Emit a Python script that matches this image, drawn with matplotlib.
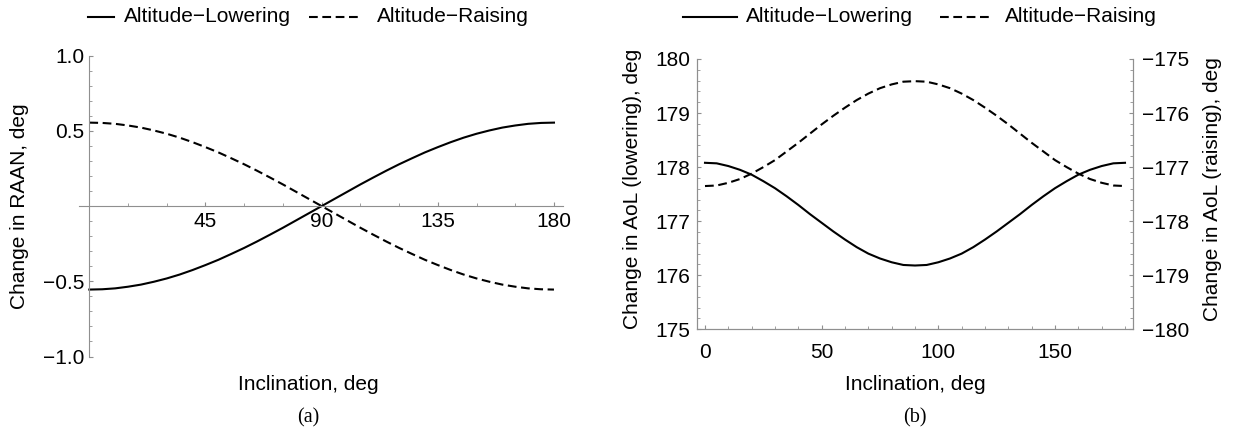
import matplotlib
matplotlib.use('Agg')
import matplotlib.pyplot as plt
from matplotlib.lines import Line2D
from matplotlib.ticker import MultipleLocator

plt.rcParams['font.family'] = ['Liberation Sans', 'DejaVu Sans']
plt.rcParams['font.size'] = 15

# Inclination grid, deg
incl = list(range(0, 181, 5))

# (a) change in RAAN, deg
raan_lowering = [-0.555, -0.553, -0.547, -0.536, -0.522, -0.503, -0.481, -0.455, -0.425, -0.392,
                 -0.357, -0.318, -0.278, -0.235, -0.190, -0.144, -0.096, -0.048, 0.0,
                 0.048, 0.096, 0.144, 0.190, 0.235, 0.278, 0.318, 0.357, 0.392,
                 0.425, 0.455, 0.481, 0.503, 0.522, 0.536, 0.547, 0.553, 0.555]
raan_raising = [0.555, 0.553, 0.547, 0.536, 0.522, 0.503, 0.481, 0.455, 0.425, 0.392,
                0.357, 0.318, 0.278, 0.235, 0.190, 0.144, 0.096, 0.048, 0.0,
                -0.048, -0.096, -0.144, -0.190, -0.235, -0.278, -0.318, -0.357, -0.392,
                -0.425, -0.455, -0.481, -0.503, -0.522, -0.536, -0.547, -0.553, -0.555]

# (b) change in AoL, deg (lowering on left axis, raising on right axis)
aol_lowering = [178.08, 178.07, 178.02, 177.95, 177.86, 177.74, 177.61, 177.46, 177.30, 177.13,
                176.97, 176.81, 176.66, 176.52, 176.40, 176.31, 176.24, 176.19, 176.18,
                176.19, 176.24, 176.31, 176.40, 176.52, 176.66, 176.81, 176.97, 177.13,
                177.30, 177.46, 177.61, 177.74, 177.86, 177.95, 178.02, 178.07, 178.08]
aol_raising = [-177.35, -177.34, -177.29, -177.22, -177.12, -177.00, -176.87, -176.71, -176.55, -176.38,
               -176.21, -176.05, -175.90, -175.76, -175.64, -175.54, -175.47, -175.42, -175.41,
               -175.42, -175.47, -175.54, -175.64, -175.76, -175.90, -176.05, -176.21, -176.38,
               -176.55, -176.71, -176.87, -177.00, -177.12, -177.22, -177.29, -177.34, -177.35]

axis_gray = '#8f8f8f'
lw = 1.5
dash = (0, (4.2, 2.2))

W, H = 1239, 432
fig = plt.figure(figsize=(W / 100, H / 100), dpi=100)


def px_axes(x0, x1, ytop, ybot):
    return fig.add_axes([x0 / W, 1 - ybot / H, (x1 - x0) / W, (ybot - ytop) / H])


def style_ticks(ax, which_axis, pad):
    ax.tick_params(axis=which_axis, which='major', direction='in', length=3.2, width=0.8,
                   color=axis_gray, pad=pad, labelsize=15)
    ax.tick_params(axis=which_axis, which='minor', direction='in', length=2.0, width=0.6,
                   color=axis_gray)


# ---- (a) RAAN ----
ax1 = px_axes(79, 563, 55.7, 356.5)
ax1.plot(incl, raan_lowering, color='black', lw=lw)
ax1.plot(incl, raan_raising, color='black', lw=lw, linestyle=dash)
ax1.set_xlim(-4, 183.5)
ax1.set_ylim(-1, 1)
for s in ['top', 'right']:
    ax1.spines[s].set_visible(False)
ax1.spines['left'].set_position(('data', 0))
ax1.spines['bottom'].set_position(('data', 0))
for s in ['left', 'bottom']:
    ax1.spines[s].set_color(axis_gray)
    ax1.spines[s].set_linewidth(0.8)
ax1.set_xticks([45, 90, 135, 180])
ax1.xaxis.set_minor_locator(MultipleLocator(15))
ax1.set_yticks([-1.0, -0.5, 0.5, 1.0], ['\u22121.0', '\u22120.5', '0.5', '1.0'])
ax1.yaxis.set_minor_locator(MultipleLocator(0.1))
style_ticks(ax1, 'x', 4)
style_ticks(ax1, 'y', 3.5)
fig.text(20 / W, 1 - 206 / H, 'Change in RAAN, deg', rotation=90, ha='center', va='center')
fig.text(308 / W, 1 - 385 / H, 'Inclination, deg', ha='center', va='center')
fig.text(308 / W, 1 - 418 / H, '(a)', ha='center', va='center', family='Liberation Serif', fontsize=14.5)

# ---- (b) AoL ----
ax2 = px_axes(697.3, 1132.7, 59, 329.3)
ax2.plot(incl, aol_lowering, color='black', lw=lw)
ax2.set_xlim(-3.3, 183.3)
ax2.set_ylim(175, 180)
ax2.set_xticks([0, 50, 100, 150])
ax2.xaxis.set_minor_locator(MultipleLocator(10))
ax2.set_yticks([175, 176, 177, 178, 179, 180])
ax2.yaxis.set_minor_locator(MultipleLocator(0.2))
style_ticks(ax2, 'x', 10)
style_ticks(ax2, 'y', 4.8)

ax3 = ax2.twinx()
ax3.plot(incl, aol_raising, color='black', lw=lw, linestyle=dash)
ax3.set_ylim(-180, -175)
ax3.set_yticks([-180, -179, -178, -177, -176, -175])
ax3.yaxis.set_minor_locator(MultipleLocator(0.2))
style_ticks(ax3, 'y', 7)

for ax in (ax2, ax3):
    ax.spines['top'].set_visible(False)
    for s in ['left', 'right', 'bottom']:
        ax.spines[s].set_color(axis_gray)
        ax.spines[s].set_linewidth(0.8)

fig.text(632 / W, 1 - 189 / H, 'Change in AoL (lowering), deg', rotation=90, ha='center', va='center')
fig.text(1212 / W, 1 - 189 / H, 'Change in AoL (raising), deg', rotation=90, ha='center', va='center')
fig.text(915 / W, 1 - 385 / H, 'Inclination, deg', ha='center', va='center')
fig.text(915 / W, 1 - 418 / H, '(b)', ha='center', va='center', family='Liberation Serif', fontsize=14.5)


# ---- legends drawn above each panel ----
def legend_entry(x0, x1, ls, label, tx):
    y = 1 - 17 / H
    fig.add_artist(Line2D([x0 / W, x1 / W], [y, y], color='black', lw=lw, linestyle=ls,
                          transform=fig.transFigure))
    fig.text(tx / W, y, label, ha='left', va='center')


legend_entry(88, 114, '-', 'Altitude\u2212Lowering', 124)
legend_entry(309, 362, dash, 'Altitude\u2212Raising', 377)
legend_entry(683, 737, '-', 'Altitude\u2212Lowering', 746)
legend_entry(940, 993, dash, 'Altitude\u2212Raising', 1005)

fig.savefig('out.png', dpi=100)
